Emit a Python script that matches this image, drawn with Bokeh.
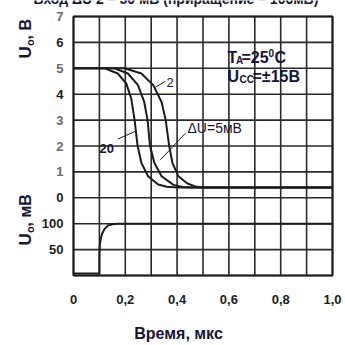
from math import pi
from bokeh.plotting import figure
from bokeh.models import Range1d, ColumnDataSource
from bokeh.core.properties import value
from bokeh.embed import file_html
from bokeh.resources import INLINE

# ---- data ----
# output voltage curves, U0 in volts vs time in microseconds
t_20 = [0.0, 0.10, 0.12, 0.171, 0.204, 0.223, 0.236, 0.247, 0.262, 0.288, 0.327, 0.36, 0.40, 1.0]
u_20 = [5.0, 5.0, 5.0, 4.8, 4.41, 3.83, 3.0, 2.03, 1.35, 0.83, 0.51, 0.43, 0.4, 0.4]

t_5 = [0.0, 0.12, 0.158, 0.21, 0.249, 0.273, 0.286, 0.295, 0.312, 0.34, 0.386, 0.42, 0.46, 1.0]
u_5 = [5.0, 5.0, 5.0, 4.8, 4.35, 3.7, 3.0, 2.03, 1.35, 0.83, 0.5, 0.42, 0.4, 0.4]

t_2 = [0.0, 0.15, 0.197, 0.262, 0.308, 0.34, 0.356, 0.369, 0.382, 0.405, 0.44, 0.47, 0.50, 1.0]
u_2 = [5.0, 5.0, 5.0, 4.8, 4.35, 3.7, 3.0, 2.03, 1.35, 0.83, 0.55, 0.44, 0.4, 0.4]

# input step, Ui in millivolts
t_in = [0.0, 0.10, 0.10, 0.102, 0.105, 0.11, 0.12, 0.135, 0.15, 0.17, 1.0]
u_in = [4, 4, 40, 60, 70, 80, 90, 97, 99, 100, 100]

# ticks / grid
grid_t = [0.0, 0.1, 0.2, 0.3, 0.4, 0.5, 0.6, 0.7, 0.8, 0.9, 1.0]
x_ticks = [0.0, 0.2, 0.4, 0.6, 0.8, 1.0]
x_tick_labels = ["0", "0,2", "0,4", "0,6", "0,8", "1,0"]
y_rows = [0, 1, 2, 3, 4, 5, 6, 7, 8, 9, 10]
y_tick_labels = ["", "50", "100", "0", "1", "2", "3", "4", "5", "6", "7"]

V_OFFSET = 3      # 0 V sits on grid row 3
MV_PER_ROW = 50   # lower part: 50 mV per row

def v_row(v):
    return [x + V_OFFSET for x in v]

def mv_row(v):
    return [x / MV_PER_ROW for x in v]

# ---- layout: the plot frame covers the whole canvas ----
W = H = 345
X0, PX_T = 73, 259.0      # pixel of t=0, pixels per microsecond
Y0, PX_R = 275, 25.9      # pixel of row 0, pixels per row

def dx(px):
    return (px - X0) / PX_T

def dy(py):
    return (Y0 - py) / PX_R

INK = "#1c1c1c"
GRID = "#2a2a2a"
TXT = "#15153a"
FONT = "Liberation Sans"

p = figure(width=W, height=H, output_backend="svg", toolbar_location=None,
           x_range=Range1d(dx(0), dx(W)), y_range=Range1d(dy(H), dy(0)),
           min_border=0, x_axis_location=None, y_axis_location=None)
p.grid.visible = False
p.outline_line_color = None
p.background_fill_color = "white"
p.border_fill_color = "white"

# grid
n = len(grid_t)
p.segment(x0=grid_t, y0=[y_rows[0]] * n, x1=grid_t, y1=[y_rows[-1]] * n,
          line_color=GRID, line_width=1.6)
m = len(y_rows)
p.segment(x0=[grid_t[0]] * m, y0=y_rows, x1=[grid_t[-1]] * m, y1=y_rows,
          line_color=GRID, line_width=1.6)
# frame
p.rect(x=(grid_t[0] + grid_t[-1]) / 2, y=(y_rows[0] + y_rows[-1]) / 2,
       width=grid_t[-1] - grid_t[0], height=y_rows[-1] - y_rows[0],
       fill_color=None, line_color=INK, line_width=2)

# curves
for t, u in ((t_20, u_20), (t_5, u_5), (t_2, u_2)):
    p.line(t, v_row(u), line_color=INK, line_width=2)
p.line(t_in, mv_row(u_in), line_color=INK, line_width=2)

# leader lines
lead = ColumnDataSource(dict(
    x0=[0.317, 0.172, 0.432],
    y0=v_row([4.27, 2.27, 2.49]),
    x1=[0.355, 0.237, 0.336],
    y1=v_row([4.5, 2.56, 1.47]),
))
p.segment("x0", "y0", "x1", "y1", source=lead, line_color=INK, line_width=1)

def txt(x, y, text, size="14px", style="bold", align="left", baseline="middle",
        angle=0, color=TXT):
    p.text(x=[x], y=[y], text=[text], text_font=value(FONT), text_font_size=size,
           text_font_style=style, text_color=color, text_align=align,
           text_baseline=baseline, angle=angle)

# tick labels
gray = {"7", "5", "3", "2", "1"}
ysrc = ColumnDataSource(dict(
    x=[dx(63)] * len(y_rows), y=y_rows, text=y_tick_labels,
    c=["#6a6a6a" if s in gray else "#1e1e1e" for s in y_tick_labels]))
p.text("x", "y", text="text", source=ysrc, text_color="c", text_font=value(FONT),
       text_font_size="13px", text_font_style="bold", text_align="right",
       text_baseline="middle")
xsrc = ColumnDataSource(dict(x=x_ticks, y=[dy(299)] * len(x_ticks), text=x_tick_labels))
p.text("x", "y", text="text", source=xsrc, text_color="#1e1e1e", text_font=value(FONT),
       text_font_size="13px", text_font_style="bold", text_align="center",
       text_baseline="middle")

# in-plot annotations
txt(dx(166), dy(82), "2", size="13px", style="normal")
txt(dx(99), dy(148), "20", size="13px", style="bold")
txt(dx(187), dy(127), "ΔU=5мВ", size="14px", style="normal")

# T_A = 25 °C
txt(dx(227), dy(57), "T", size="16px")
txt(dx(235.5), dy(60), "A", size="10px")
txt(dx(241), dy(57), "=25", size="16px")
txt(dx(268), dy(52), "0", size="10px")
txt(dx(274), dy(57), "C", size="16px")
# U_CC = ±15 В
txt(dx(227), dy(76), "U", size="16px")
txt(dx(239), dy(79), "CC", size="10px")
txt(dx(252), dy(76), "=±15В", size="16px")

# axis titles
rot = pi / 2
txt(dx(25), dy(58), "U", size="17px", angle=rot)
txt(dx(29), dy(45.5), "o", size="11px", angle=rot)
txt(dx(25), dy(39), ", В", size="16px", angle=rot)
txt(dx(25), dy(245), "U", size="17px", angle=rot)
txt(dx(29), dy(232.5), "o", size="11px", angle=rot)
txt(dx(25), dy(226), ", мВ", size="16px", angle=rot)
txt(dx(178), dy(333), "Время, мкс", size="16px", align="center")

# chart title, mostly cut off by the top edge as in the picture
txt(dx(33), dy(-1.5), "Вход ΔU 2 – 50 мВ (приращение – 100мВ)", size="14px",
    baseline="alphabetic")

out = file_html(p, INLINE)
open("out.html", "w").write(out)
